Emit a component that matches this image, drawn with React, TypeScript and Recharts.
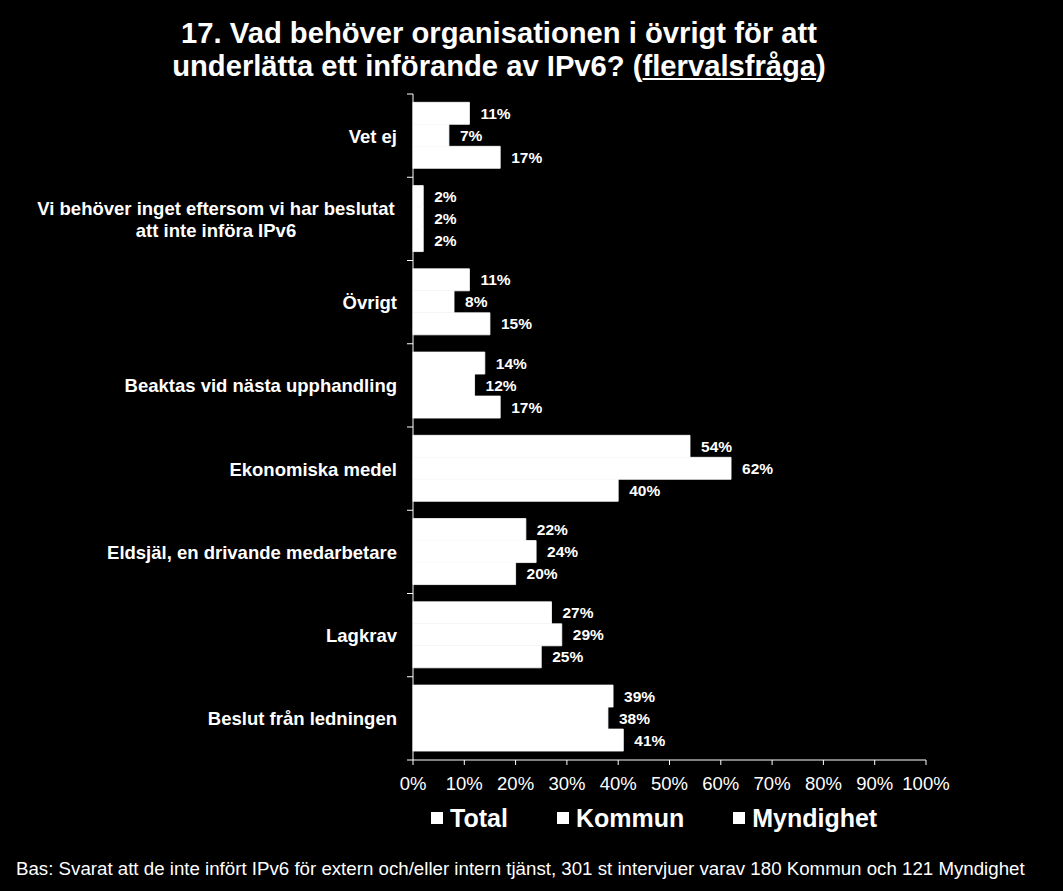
import { BarChart, Bar, XAxis, YAxis, Legend, LabelList } from 'recharts';

const categories = [
  'Vet ej',
  'Vi behöver inget eftersom vi har beslutat\natt inte införa IPv6',
  'Övrigt',
  'Beaktas vid nästa upphandling',
  'Ekonomiska medel',
  'Eldsjäl, en drivande medarbetare',
  'Lagkrav',
  'Beslut från ledningen',
];
const totalValues = [11, 2, 11, 14, 54, 22, 27, 39];
const kommunValues = [7, 2, 8, 12, 62, 24, 29, 38];
const myndighetValues = [17, 2, 15, 17, 40, 20, 25, 41];
const seriesNames = ['Total', 'Kommun', 'Myndighet'];
const xTicks = [0, 10, 20, 30, 40, 50, 60, 70, 80, 90, 100];

const data = categories.map((name, i) => ({
  name,
  total: totalValues[i],
  kommun: kommunValues[i],
  myndighet: myndighetValues[i],
}));

const FONT = '"Liberation Sans", Arial, sans-serif';
const PLOT_TOP = 94;
const PLOT_BOTTOM = 760;
const PLOT_LEFT = 413;
const BAND = (PLOT_BOTTOM - PLOT_TOP) / categories.length;

function CategoryTick(props: any) {
  const { x, y, payload, index } = props;
  const lines = String(payload.value).split('\n');
  const lineH = 22;
  const startY = y - ((lines.length - 1) * lineH) / 2;
  const multi = lines.length > 1;
  // Excel-style tick marks sit on the band borders, not the band centre
  const top = y - BAND / 2;
  return (
    <g>
      <line x1={PLOT_LEFT - 6} x2={PLOT_LEFT} y1={top} y2={top} stroke="#fff" />
      {index === categories.length - 1 && (
        <line x1={PLOT_LEFT - 6} x2={PLOT_LEFT} y1={top + BAND} y2={top + BAND} stroke="#fff" />
      )}
      <text
        x={x}
        y={startY}
        dominantBaseline="central"
        fill="#fff"
        fontFamily={FONT}
        fontWeight="bold"
        fontSize={18.5}
      >
        {lines.map((l, i) => (
          <tspan key={i} x={multi ? x - 181 : x} dy={i === 0 ? 0 : lineH} textAnchor={multi ? 'middle' : 'end'}>
            {l}
          </tspan>
        ))}
      </text>
    </g>
  );
}

function LegendContent() {
  return (
    <div style={{ display: 'flex', alignItems: 'center', height: 30, fontFamily: FONT }}>
      {seriesNames.map((s, i) => (
        <div key={s} style={{ display: 'flex', alignItems: 'center', marginRight: i < seriesNames.length - 1 ? 49 : 0 }}>
          <span style={{ width: 12, height: 12, background: '#fff', display: 'inline-block', marginRight: 7 }} />
          <span style={{ color: '#fff', fontWeight: 'bold', fontSize: 25 }}>{s}</span>
        </div>
      ))}
    </div>
  );
}

const labelProps = {
  position: 'right' as const,
  offset: 11,
  fill: '#fff',
  fontSize: 15.5,
  fontWeight: 'bold',
  fontFamily: FONT,
  formatter: (v: any) => `${v}%`,
};

export default function App() {
  return (
    <div style={{ position: 'fixed', left: 0, top: 0, width: 1063, height: 891, background: '#000', overflow: 'hidden' }}>
      <div
        style={{
          position: 'absolute',
          left: 0,
          top: 17,
          width: 998,
          textAlign: 'center',
          color: '#fff',
          fontFamily: FONT,
          fontWeight: 'bold',
          fontSize: 29.2,
          lineHeight: '33px',
        }}
      >
        17. Vad behöver organisationen i övrigt för att
        <br />
        underlätta ett införande av IPv6? (<span style={{ textDecoration: 'underline' }}>flervalsfråga</span>)
      </div>
      <div style={{ position: 'absolute', left: 0, top: 0 }}>
        <BarChart
          width={1063}
          height={891}
          data={data}
          layout="vertical"
          margin={{ top: PLOT_TOP, right: 137, left: 0, bottom: 71 }}
          barCategoryGap="10%"
          barGap={0}
        >
          <XAxis
            type="number"
            domain={[0, 100]}
            ticks={xTicks}
            interval={0}
            tickFormatter={(v) => `${v}%`}
            axisLine={{ stroke: '#fff' }}
            tickLine={{ stroke: '#fff' }}
            tickSize={5}
            tickMargin={12}
            tick={{ fill: '#fff', fontSize: 18.5, fontFamily: FONT }}
            height={30}
          />
          <YAxis
            type="category"
            dataKey="name"
            width={PLOT_LEFT}
            interval={0}
            axisLine={{ stroke: '#fff' }}
            tickLine={false}
            tickSize={6}
            tickMargin={10}
            tick={<CategoryTick />}
          />
          <Legend
            verticalAlign="bottom"
            content={<LegendContent />}
            wrapperStyle={{ left: 431, top: 803, bottom: 'auto', width: 'auto', height: 30 }}
          />
          <Bar dataKey="total" name="Total" fill="#fff" stroke="#fff" strokeWidth={0.8} isAnimationActive={false}>
            <LabelList dataKey="total" {...labelProps} />
          </Bar>
          <Bar dataKey="kommun" name="Kommun" fill="#fff" stroke="#fff" strokeWidth={0.8} isAnimationActive={false}>
            <LabelList dataKey="kommun" {...labelProps} />
          </Bar>
          <Bar dataKey="myndighet" name="Myndighet" fill="#fff" stroke="#fff" strokeWidth={0.8} isAnimationActive={false}>
            <LabelList dataKey="myndighet" {...labelProps} />
          </Bar>
        </BarChart>
      </div>
      <div
        style={{
          position: 'absolute',
          left: 16,
          top: 858,
          color: '#fff',
          fontFamily: FONT,
          fontSize: 18.7,
          whiteSpace: 'nowrap',
        }}
      >
        Bas: Svarat att de inte infört IPv6 för extern och/eller intern tjänst, 301 st intervjuer varav 180 Kommun och 121 Myndighet
      </div>
    </div>
  );
}
